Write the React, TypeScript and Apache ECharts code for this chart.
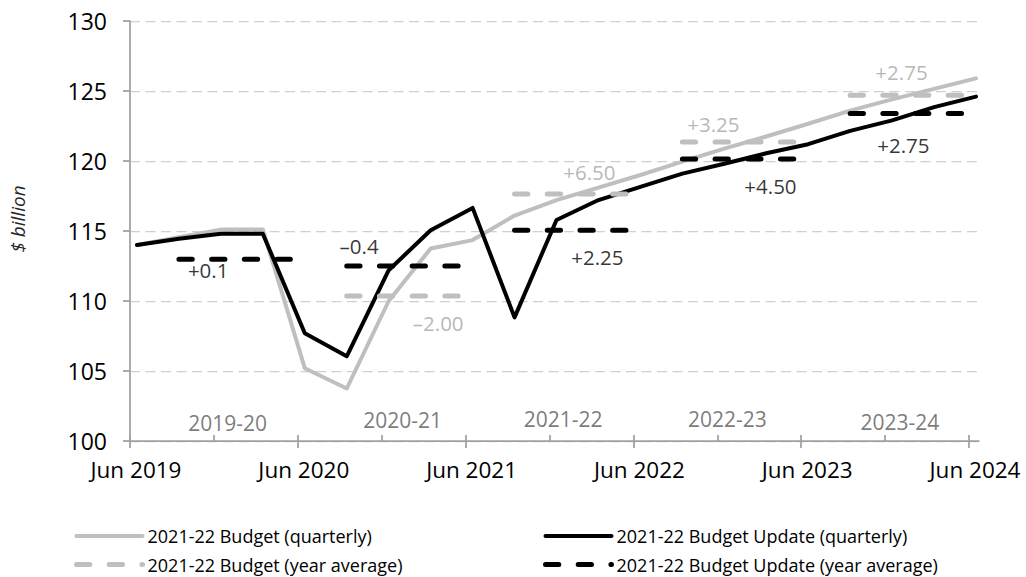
import React, { useEffect, useRef } from "react";
import * as echarts from "echarts";

// ---- Data ----
const quarters = [
  "Jun 2019", "Sep 2019", "Dec 2019", "Mar 2020", "Jun 2020", "Sep 2020", "Dec 2020",
  "Mar 2021", "Jun 2021", "Sep 2021", "Dec 2021", "Mar 2022", "Jun 2022", "Sep 2022",
  "Dec 2022", "Mar 2023", "Jun 2023", "Sep 2023", "Dec 2023", "Mar 2024", "Jun 2024",
];
const budgetQuarterly = [
  114.0, 114.55, 115.1, 115.1, 105.2, 103.75, 110.0, 113.75, 114.35, 116.1, 117.2,
  118.1, 119.0, 119.96, 120.88, 121.75, 122.66, 123.6, 124.4, 125.15, 125.9,
];
const updateQuarterly = [
  114.0, 114.45, 114.8, 114.8, 107.7, 106.05, 112.2, 115.05, 116.65, 108.83, 115.79,
  117.21, 118.15, 119.1, 119.8, 120.55, 121.2, 122.15, 122.9, 123.85, 124.6,
];
const fiscalYears = ["2019-20", "2020-21", "2021-22", "2022-23", "2023-24"];
const budgetYearAverage: (number | null)[] = [null, 110.35, 117.65, 121.35, 124.7];
const updateYearAverage = [112.98, 112.5, 115.05, 120.15, 123.4];

const xTickLabels = ["Jun 2019", "Jun 2020", "Jun 2021", "Jun 2022", "Jun 2023", "Jun 2024"];
const seriesNames = [
  "2021-22 Budget (quarterly)",
  "2021-22 Budget Update (quarterly)",
  "2021-22 Budget (year average)",
  "2021-22 Budget Update (year average)",
];

// Annotations (text, placed in data coordinates: months since Jun 2019, $ billion)
const noteTexts = ["+0.1", "\u20130.4", "\u20132.00", "+2.25", "+6.50", "+3.25", "+4.50", "+2.75", "+2.75"];
const noteAnchors = [
  [5.59, 112.21], [16.38, 113.93], [22.04, 108.43], [33.42, 113.14], [32.85, 119.21],
  [41.72, 122.64], [45.8, 118.21], [55.17, 126.36], [55.31, 121.14],
];
const noteIsBudget = [false, false, true, false, true, true, false, true, false];
const fiscalLabelAnchors = [
  [6.98, 101.26], [19.5, 101.5], [30.97, 101.55], [42.72, 101.55], [55.06, 101.38],
];

// ---- Style ----
const FONT = "'Open Sans', sans-serif";
const GRAY = "#BFBFBF";
const GRAY_TEXT = "#A5A5A5";
const BLACK = "#000000";
const AXIS = "#A0A0A0";
const CLEAR = "rgba(0,0,0,0)";

// quarter index -> months since Jun 2019 (plotted at mid-month)
const qx = (i: number) => i * 3 + 0.5;
const X_MAX = 60.7;

export default function App() {
  const ref = useRef<HTMLDivElement>(null);

  useEffect(() => {
    if (!ref.current) return;
    const chart = echarts.init(ref.current, null, { renderer: "svg" });

    const avgSeries = (values: (number | null)[], name: string, color: string, z: number) =>
      values
        .map((v, j) => {
          if (v === null) return null;
          const data = [1, 2, 3, 4].map((q) => [qx(4 * j + q), v]);
          return {
            name,
            type: "line",
            data,
            symbol: "none",
            color,
            z,
            silent: true,
            lineStyle: { color, width: 5, type: [13.3, 19.4], cap: "round", join: "round" },
          };
        })
        .filter(Boolean);

    const legendBase = {
      orient: "vertical",
      top: 527,
      padding: 0,
      itemWidth: 66,
      itemHeight: 14,
      itemGap: 10.5,
      selectedMode: false,
      textStyle: { fontSize: 18, color: "#000", fontFamily: FONT },
      lineStyle: { width: "inherit", cap: "round" },
      itemStyle: { opacity: 0 },
    };

    const option: any = {
      animation: false,
      grid: { left: 130, right: 1026 - 978.8, top: 21, bottom: 136, containLabel: false },
      graphic: [
        {
          type: "text",
          x: 18,
          y: 219,
          rotation: Math.PI / 2,
          style: {
            text: "$ billion",
            fill: "#262626",
            font: `italic 19px ${FONT}`,
            align: "center",
            verticalAlign: "middle",
          },
        },
      ],
      legend: [
        { ...legendBase, data: [seriesNames[0], seriesNames[2]], left: 74 },
        { ...legendBase, data: [seriesNames[1], seriesNames[3]], left: 543 },
      ],
      xAxis: [
        {
          type: "value",
          min: 0,
          max: X_MAX,
          position: "bottom",
          axisLine: { show: true, lineStyle: { color: AXIS, width: 1.75 } },
          axisTick: {
            show: true,
            length: 7,
            customValues: xTickLabels.map((_, i) => i * 12),
            lineStyle: { color: AXIS, width: 1.75 },
          },
          axisLabel: {
            customValues: xTickLabels.map((_, i) => i * 12),
            formatter: (v: number) => xTickLabels[Math.round(v / 12)] ?? "",
            margin: 17,
            fontSize: 22.5,
            color: "#000",
            fontFamily: FONT,
            padding: [0, 0, 0, 12],
          },
          splitLine: { show: false },
        },
        {
          type: "value",
          min: 0,
          max: X_MAX,
          position: "top",
          offset: -420,
          axisLine: { show: false },
          axisTick: {
            show: true,
            inside: false,
            length: 6,
            customValues: [0, 1, 2, 3, 4, 5, 6, 7, 8, 9, 10].map((i) => i * 6),
            lineStyle: { color: AXIS, width: 1.75 },
          },
          axisLabel: { show: false },
          splitLine: { show: false },
        },
      ],
      yAxis: {
        type: "value",
        min: 100,
        max: 130,
        interval: 5,
        axisLine: { show: true, lineStyle: { color: AXIS, width: 1.75 } },
        axisTick: { show: true, length: 7, lineStyle: { color: AXIS, width: 1.75 } },
        axisLabel: { margin: 23, fontSize: 23, color: "#000", fontFamily: FONT },
        splitLine: { show: true, lineStyle: { color: "#D0D0D0", width: 1.25, type: [10, 5.5] } },
      },
      series: [
        {
          name: seriesNames[0],
          type: "line",
          data: budgetQuarterly.map((v, i) => [qx(i), v]),
          symbol: "none",
          color: GRAY,
          z: 2,
          silent: true,
          lineStyle: { color: GRAY, width: 4, cap: "round", join: "round" },
        },
        {
          name: seriesNames[1],
          type: "line",
          data: updateQuarterly.map((v, i) => [qx(i), v]),
          symbol: "none",
          color: BLACK,
          z: 3,
          silent: true,
          lineStyle: { color: BLACK, width: 4, cap: "round", join: "round" },
        },
        ...avgSeries(budgetYearAverage, seriesNames[2], GRAY, 4),
        ...avgSeries(updateYearAverage, seriesNames[3], BLACK, 5),
        {
          name: "notes",
          type: "scatter",
          symbolSize: 1,
          itemStyle: { color: CLEAR },
          z: 10,
          silent: true,
          data: noteAnchors.map((p, i) => ({
            value: p,
            label: { color: noteIsBudget[i] ? GRAY_TEXT : BLACK },
          })),
          label: {
            show: true,
            position: "inside",
            fontSize: 20.5,
            fontFamily: FONT,
            formatter: (p: any) => noteTexts[p.dataIndex],
          },
        },
        {
          name: "fiscal years",
          type: "scatter",
          symbolSize: 1,
          itemStyle: { color: CLEAR },
          z: 10,
          silent: true,
          data: fiscalLabelAnchors,
          label: {
            show: true,
            position: "inside",
            fontSize: 21,
            color: "#595959",
            fontFamily: FONT,
            formatter: (p: any) => fiscalYears[p.dataIndex],
          },
        },
      ],
    };

    chart.setOption(option);
    return () => chart.dispose();
  }, []);

  return (
    <div
      ref={ref}
      style={{ position: "fixed", left: 0, top: 0, width: 1026, height: 577, background: "#fff" }}
    />
  );
}
